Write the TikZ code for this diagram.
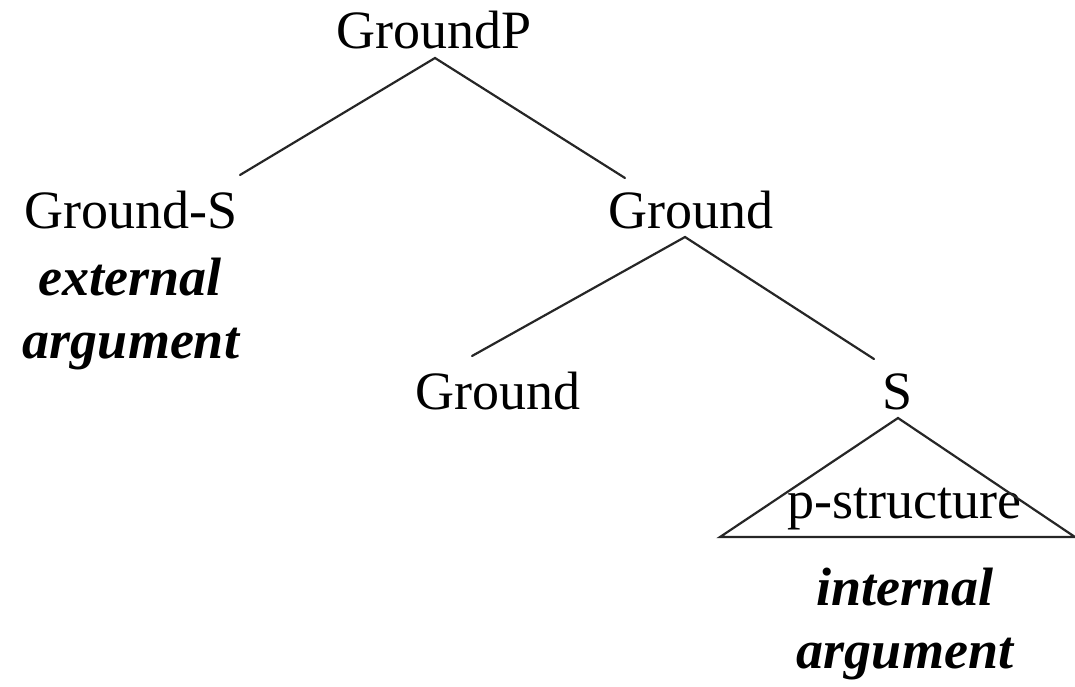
\documentclass[tikz,border=0pt]{standalone}
\usepackage{fontspec}
\setmainfont{Liberation Serif}
\begin{document}
\begin{tikzpicture}[x=1pt,y=-1pt,
  lbl/.style={anchor=base,inner sep=0pt,font=\fontsize{54}{60}\selectfont},
  note/.style={lbl,font=\fontsize{54}{60}\selectfont\bfseries\itshape},
  branch/.style={line width=2.2pt,line cap=round,line join=miter,black!85}]
\useasboundingbox (0,0) rectangle (1075,686);

% labels of the tree
\node[lbl] (gp)  at (434,48)  {GroundP};
\node[lbl] (gs)  at (131,228) {Ground-S};
\node[note] (ext) at (130,295) {external};
\node[note] (arg1) at (131,358) {argument};
\node[lbl] (gbar) at (691,228) {Ground};
\node[lbl] (g0)  at (498,409) {Ground};
\node[lbl] (s)   at (898,409) {S};
\node[lbl] (ps)  at (904,518) {p-structure};
\node[note] (int) at (905,605) {internal};
\node[note] (arg2) at (905,668) {argument};

% branch end points
\coordinate (gp-foot) at (435,58);
\coordinate (gs-top) at (240,175);
\coordinate (gbar-top) at (625,178);
\coordinate (gbar-foot) at (685,237);
\coordinate (g0-top) at (472,356);
\coordinate (s-top) at (874,359);
\coordinate (s-foot) at (898,418);
\coordinate (tri-l) at (720,537);
\coordinate (tri-r) at (1075,537);

\draw[branch] (gs-top) -- (gp-foot) -- (gbar-top);
\draw[branch] (g0-top) -- (gbar-foot) -- (s-top);
\draw[branch] (tri-l) -- (s-foot) -- (tri-r) -- cycle;
\end{tikzpicture}
\end{document}
